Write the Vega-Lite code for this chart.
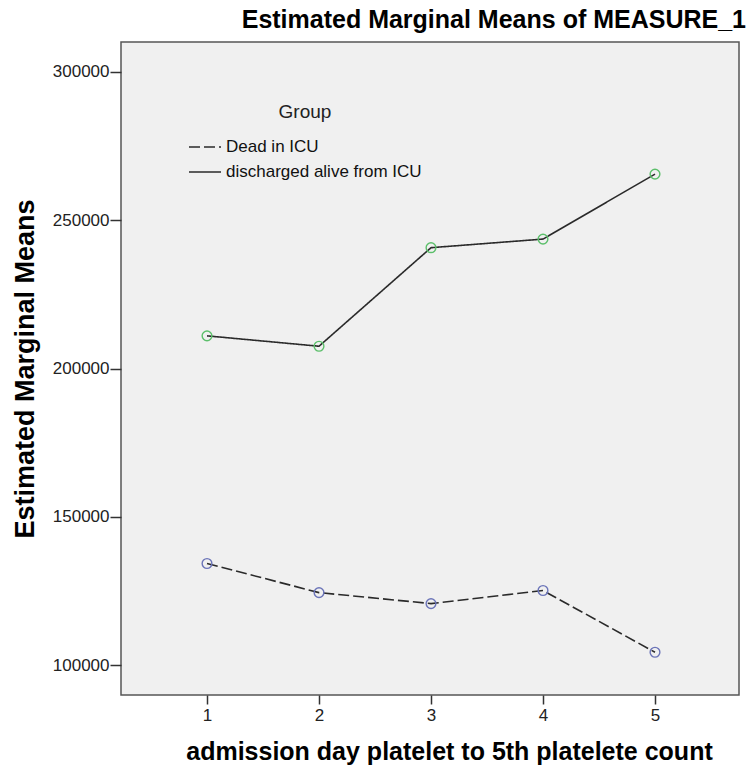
{
  "$schema": "https://vega.github.io/schema/vega-lite/v6.json",
  "width": 618,
  "height": 653,
  "autosize": {"type": "none"},
  "padding": {"left": 121, "top": 42, "right": 9, "bottom": 74},
  "background": "white",
  "title": {
    "text": "Estimated Marginal Means of MEASURE_1",
    "anchor": "end",
    "frame": "group",
    "font": "Liberation Sans",
    "fontSize": 25,
    "fontWeight": "bold",
    "color": "#000000",
    "offset": 9,
    "dx": 7
  },
  "config": {
    "view": {"fill": "#f0f0f0", "stroke": "#555555", "strokeWidth": 1.5},
    "font": "Liberation Sans"
  },
  "data": {
    "values": [
      {"day": 1, "group": "Dead in ICU", "mean": 134300},
      {"day": 2, "group": "Dead in ICU", "mean": 124500},
      {"day": 3, "group": "Dead in ICU", "mean": 120800},
      {"day": 4, "group": "Dead in ICU", "mean": 125200},
      {"day": 5, "group": "Dead in ICU", "mean": 104400},
      {"day": 1, "group": "discharged alive from ICU", "mean": 211000},
      {"day": 2, "group": "discharged alive from ICU", "mean": 207500},
      {"day": 3, "group": "discharged alive from ICU", "mean": 240700},
      {"day": 4, "group": "discharged alive from ICU", "mean": 243600},
      {"day": 5, "group": "discharged alive from ICU", "mean": 265500}
    ]
  },
  "encoding": {
    "x": {
      "field": "day",
      "type": "quantitative",
      "scale": {"domain": [0.232, 5.75], "nice": false, "zero": false},
      "axis": {
        "values": [1, 2, 3, 4, 5],
        "format": "d",
        "grid": false,
        "domain": false,
        "tickColor": "#333333",
        "tickWidth": 1.5,
        "tickSize": 9,
        "labelFontSize": 17,
        "labelColor": "#222222",
        "labelPadding": 3,
        "title": "admission day platelet to 5th platelete count",
        "titleFontSize": 25,
        "titleFontWeight": "bold",
        "titleColor": "#000000",
        "titlePadding": 16,
        "titleX": 328,
        "titleAlign": "center"
      }
    },
    "y": {
      "field": "mean",
      "type": "quantitative",
      "scale": {"domain": [90000, 310000], "nice": false, "zero": false},
      "axis": {
        "values": [100000, 150000, 200000, 250000, 300000],
        "format": "d",
        "grid": false,
        "domain": false,
        "tickColor": "#333333",
        "tickWidth": 1.5,
        "tickSize": 11,
        "labelFontSize": 17,
        "labelColor": "#222222",
        "labelPadding": 1,
        "title": "Estimated Marginal Means",
        "titleFontSize": 27,
        "titleFontWeight": "bold",
        "titleColor": "#000000",
        "titlePadding": 13
      }
    }
  },
  "layer": [
    {
      "mark": {"type": "line", "color": "#2a2a2a", "strokeWidth": 1.6},
      "encoding": {
        "strokeDash": {
          "field": "group",
          "type": "nominal",
          "scale": {
            "domain": ["Dead in ICU", "discharged alive from ICU"],
            "range": [[11, 4], [1, 0]]
          },
          "legend": {
            "orient": "none",
            "legendX": 67,
            "legendY": 61,
            "title": "Group",
            "titleFontSize": 19,
            "titleFontWeight": "normal",
            "titleColor": "#222222",
            "titleAnchor": "middle",
            "titlePadding": 8,
            "labelFontSize": 17,
            "labelColor": "#111111",
            "labelOffset": 4,
            "labelLimit": 400,
            "rowPadding": -11,
            "symbolType": "stroke",
            "symbolSize": 1024,
            "symbolStrokeColor": "#2a2a2a",
            "symbolStrokeWidth": 1.6
          }
        }
      }
    },
    {
      "mark": {"type": "point", "shape": "circle", "filled": false, "size": 95, "strokeWidth": 1.4, "opacity": 1},
      "encoding": {
        "color": {
          "condition": {"test": "datum.group === 'Dead in ICU'", "value": "#6b74b8"},
          "value": "#5cbf6b"
        }
      }
    }
  ]
}
